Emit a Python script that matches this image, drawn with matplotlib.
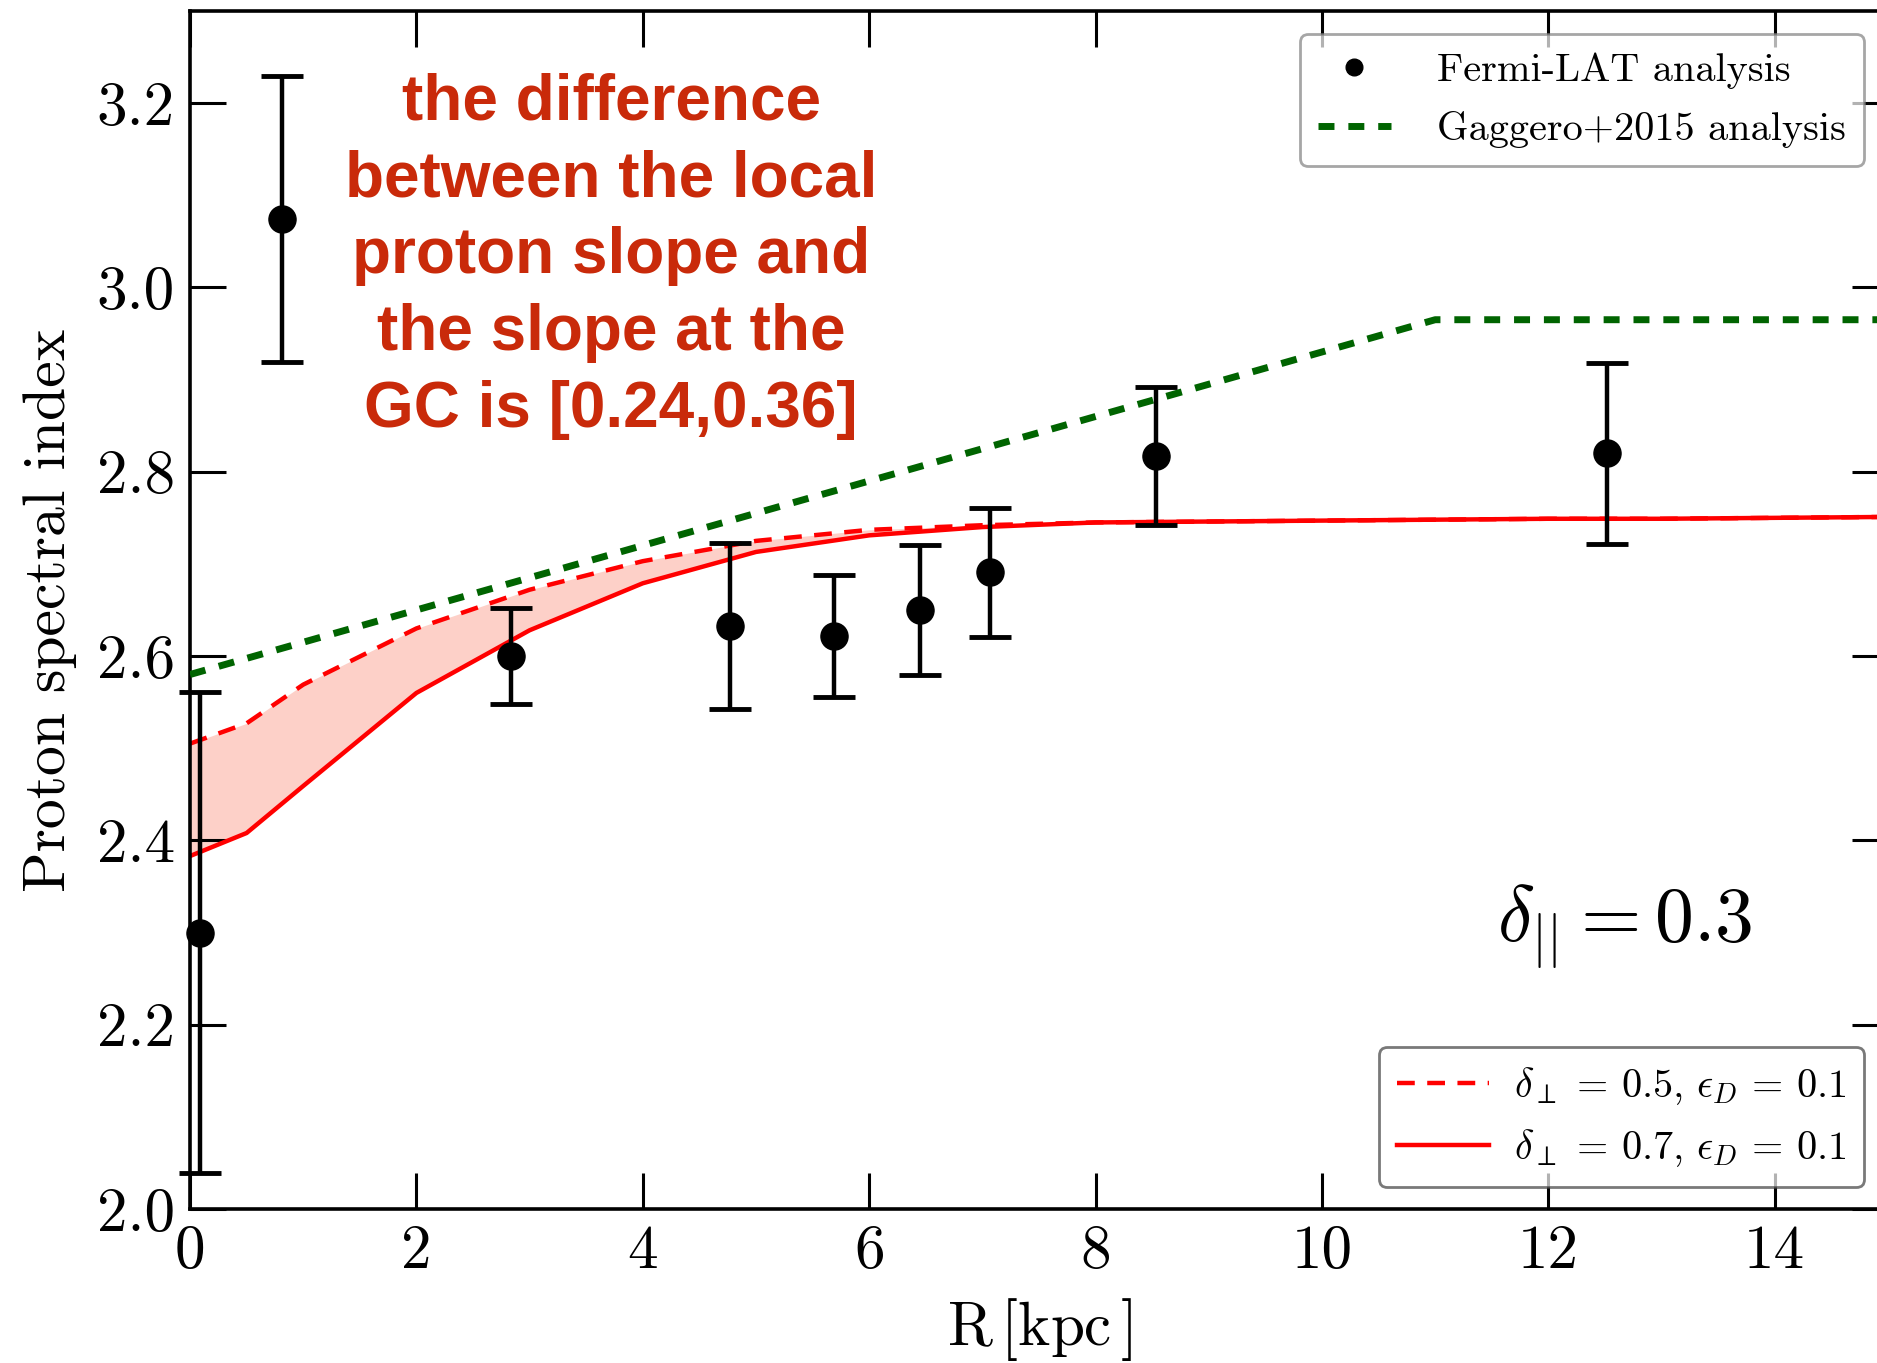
import matplotlib
matplotlib.use("Agg")
import matplotlib.pyplot as plt
from matplotlib.lines import Line2D

# ---------------- data ----------------
R_data = [0.09, 0.81, 2.84, 4.77, 5.69, 6.45, 7.07, 8.53, 12.52]
idx_data = [2.300, 3.074, 2.600, 2.633, 2.622, 2.650, 2.691, 2.817, 2.820]
err_data = [0.261, 0.155, 0.052, 0.090, 0.066, 0.071, 0.070, 0.075, 0.098]

R_model = [0, 0.5, 1, 2, 3, 4, 5, 6, 7, 8, 9, 10, 11, 12, 13, 14, 15]
idx_dperp05 = [2.505, 2.527, 2.569, 2.630, 2.672, 2.703, 2.725, 2.737, 2.742,
               2.745, 2.746, 2.747, 2.748, 2.749, 2.749, 2.750, 2.751]
idx_dperp07 = [2.383, 2.408, 2.459, 2.560, 2.628, 2.679, 2.713, 2.731, 2.740,
               2.745, 2.746, 2.747, 2.748, 2.749, 2.749, 2.750, 2.751]

R_gaggero = [0, 11, 15]
idx_gaggero = [2.58, 2.965, 2.965]

xticks = [0, 2, 4, 6, 8, 10, 12, 14]
xticklabels = ["0", "2", "4", "6", "8", "10", "12", "14"]
yticks = [2.0, 2.2, 2.4, 2.6, 2.8, 3.0, 3.2]
yticklabels = ["2.0", "2.2", "2.4", "2.6", "2.8", "3.0", "3.2"]

annotation = ("the difference\nbetween the local\nproton slope and\n"
              "the slope at the\nGC is [0.24,0.36]")

# ---------------- style ----------------
plt.rcParams["font.family"] = ["cmr10", "DejaVu Serif"]
plt.rcParams["mathtext.fontset"] = "cm"
plt.rcParams["axes.formatter.use_mathtext"] = True
plt.rcParams["axes.unicode_minus"] = False

W, H = 1877, 1363
fig = plt.figure(figsize=(W / 100, H / 100), dpi=100)
ax = fig.add_axes([190 / W, 1 - 1209 / H, (1888 - 190) / W, (1209 - 11) / H])

RED = "#ff0000"
GREEN = "#006400"
RED_DASH = (0, (4.0, 2.8))
GREEN_DASH = (0, (2.3, 2.0))

ax.fill_between(R_model, idx_dperp07, idx_dperp05, color="#fdd0c8", lw=0, zorder=1)
ax.plot(R_model, idx_dperp05, color=RED, lw=3.2, ls=RED_DASH, zorder=2)
ax.plot(R_model, idx_dperp07, color=RED, lw=3.2, zorder=2)
ax.plot(R_gaggero, idx_gaggero, color=GREEN, lw=5.0, ls=GREEN_DASH, zorder=3)

ax.errorbar(R_data, idx_data, yerr=err_data, fmt="o", color="k", ms=19.5,
            elinewidth=3.2, capsize=15, capthick=3.5, zorder=4, clip_on=False)

ax.set_xlim(0, 15)
ax.set_ylim(2.0, 3.3)
ax.set_xticks(xticks)
ax.set_xticklabels(xticklabels)
ax.set_yticks(yticks)
ax.set_yticklabels(yticklabels)
ax.tick_params(axis="both", which="major", direction="in", length=26, width=2.2,
               top=True, right=True, labelsize=44, pad=11)
ax.minorticks_off()
for sp in ax.spines.values():
    sp.set_linewidth(2.6)

ax.set_xlabel(r"$\mathrm{R}\,[\mathrm{kpc}\,]$", fontsize=44, labelpad=12)
ax.set_ylabel("Proton spectral index", fontsize=43, labelpad=14)

ax.text(3.72, 3.034, annotation, color="#c92a0a", fontsize=46,
        family=["Liberation Sans", "DejaVu Sans"], weight="bold",
        ha="center", va="center", linespacing=1.36, zorder=5)

ax.text(12.67, 2.306, r"$\delta_{||} = 0.3$", fontsize=56, ha="center",
        va="center", zorder=5)

# legends
h_fermi = Line2D([], [], ls="none", marker="o", color="k", ms=12)
h_gag = Line2D([], [], color=GREEN, lw=5.0, ls=GREEN_DASH)
leg1 = ax.legend([h_fermi, h_gag], ["Fermi-LAT analysis", "Gaggero+2015 analysis"],
                 loc="upper right", bbox_to_anchor=(1864 / W, 1 - 34 / H),
                 bbox_transform=fig.transFigure, borderaxespad=0,
                 fontsize=29, handlelength=1.8, handletextpad=1.15,
                 borderpad=0.45, labelspacing=0.55, fancybox=True,
                 edgecolor="#808080", framealpha=0.7)
leg1.get_frame().set_linewidth(2.0)
ax.add_artist(leg1)

h_05 = Line2D([], [], color=RED, lw=3.2, ls=RED_DASH)
h_07 = Line2D([], [], color=RED, lw=3.2)
leg2 = ax.legend([h_05, h_07],
                 [r"$\delta_{\perp}\,=\,0.5,\,\epsilon_D\,=\,0.1$",
                  r"$\delta_{\perp}\,=\,0.7,\,\epsilon_D\,=\,0.1$"],
                 loc="lower right", bbox_to_anchor=(1864 / W, 1 - 1187 / H),
                 bbox_transform=fig.transFigure, borderaxespad=0,
                 fontsize=29, handlelength=2.3, handletextpad=0.6,
                 borderpad=0.45, labelspacing=0.5, fancybox=True,
                 edgecolor="#404040", framealpha=0.7)
leg2.get_frame().set_linewidth(2.0)

fig.savefig("out.png", dpi=100)
